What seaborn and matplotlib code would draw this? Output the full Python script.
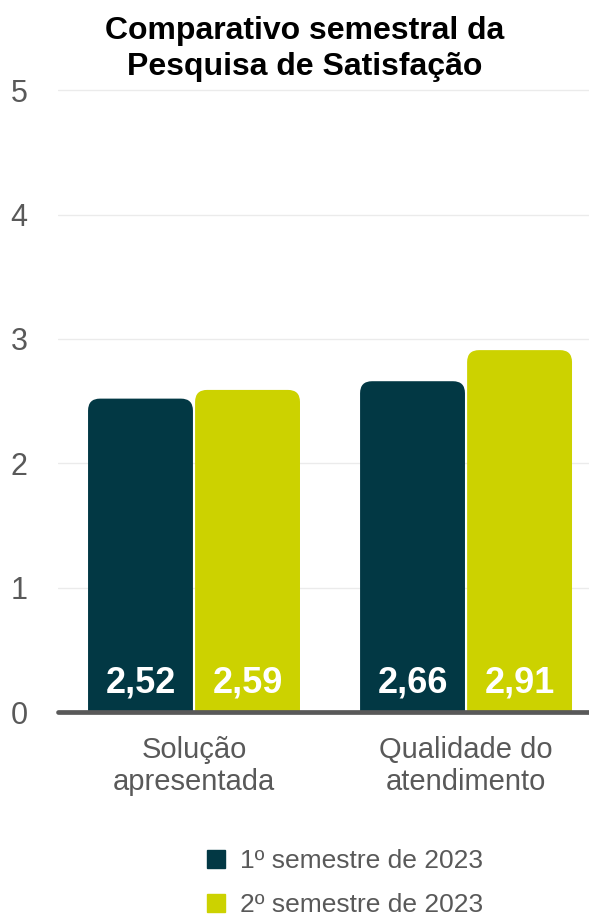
import numpy as np
import pandas as pd
import matplotlib.pyplot as plt
import seaborn as sns
from matplotlib.path import Path
from matplotlib.patches import PathPatch
from matplotlib.lines import Line2D

categories = ["Solução\napresentada", "Qualidade do\natendimento"]
semesters = ["1º semestre de 2023", "2º semestre de 2023"]
sem1_values = [2.52, 2.66]
sem2_values = [2.59, 2.91]
colors = ["#023844", "#CCD200"]

df = pd.DataFrame({
    "categoria": categories * 2,
    "semestre": [semesters[0]] * 2 + [semesters[1]] * 2,
    "nota": sem1_values + sem2_values,
})

sns.set_style("white")
plt.rcParams["font.family"] = ["Liberation Sans", "DejaVu Sans"]

fig = plt.figure(figsize=(5.89, 9.19), dpi=100)
ax = fig.add_axes([58 / 589, 207 / 919, 531 / 589, 628 / 919])

sns.barplot(data=df, x="categoria", y="nota", hue="semestre", palette=colors,
            saturation=1, width=0.787, gap=0.02, legend=False, ax=ax, zorder=2)

xlim = (-0.5, 1.452)
ylim = (0, 5.05)
ax.set_xlim(*xlim)
ax.set_ylim(*ylim)

# Swap the flat bars for bars with rounded top corners
rx = 12 / (531 / (xlim[1] - xlim[0]))
ry = 12 / (628 / (ylim[1] - ylim[0]))
bars = list(ax.patches)
for bar in bars:
    x0, w, h = bar.get_x(), bar.get_width(), bar.get_height()
    x1 = x0 + w
    verts = [(x0, 0), (x0, h - ry), (x0, h), (x0 + rx, h), (x1 - rx, h),
             (x1, h), (x1, h - ry), (x1, 0), (x0, 0)]
    codes = [Path.MOVETO, Path.LINETO, Path.CURVE3, Path.CURVE3, Path.LINETO,
             Path.CURVE3, Path.CURVE3, Path.LINETO, Path.CLOSEPOLY]
    ax.add_patch(PathPatch(Path(verts, codes), facecolor=bar.get_facecolor(),
                           edgecolor="none", zorder=2))
    bar.set_visible(False)
    ax.text(x0 + w / 2, 0.16, f"{h:.2f}".replace(".", ","), ha="center",
            va="baseline", color="white", fontsize=26, fontweight="bold", zorder=4)

ax.set_yticks([0, 1, 2, 3, 4, 5])
ax.yaxis.grid(True, color="#EBEBEB", lw=1)
ax.set_axisbelow(True)
ax.axhline(0, color="#595959", lw=3.4, zorder=3, clip_on=False)
for s in ax.spines.values():
    s.set_visible(False)
ax.tick_params(axis="y", length=0, pad=22, labelsize=22, labelcolor="#595959")
ax.tick_params(axis="x", length=0, pad=17, labelsize=21, labelcolor="#595959")
for lbl in ax.get_xticklabels():
    lbl.set_linespacing(1.2)
ax.set_xlabel("")
ax.set_ylabel("")

fig.text(305 / 589, 1 - 49 / 919, "Comparativo semestral da\nPesquisa de Satisfação",
         ha="center", va="center", fontsize=23, fontweight="bold", color="black",
         linespacing=1.3)

handles = [Line2D([], [], marker="s", ls="", markersize=13, color=c) for c in colors]
fig.legend(handles, semesters, loc="center", bbox_to_anchor=(342 / 589, 1 - 883 / 919),
           frameon=False, fontsize=19, labelcolor="#595959", labelspacing=0.75,
           handletextpad=0.3, handlelength=1.2)

fig.savefig("out.png", dpi=100)
plt.close(fig)
